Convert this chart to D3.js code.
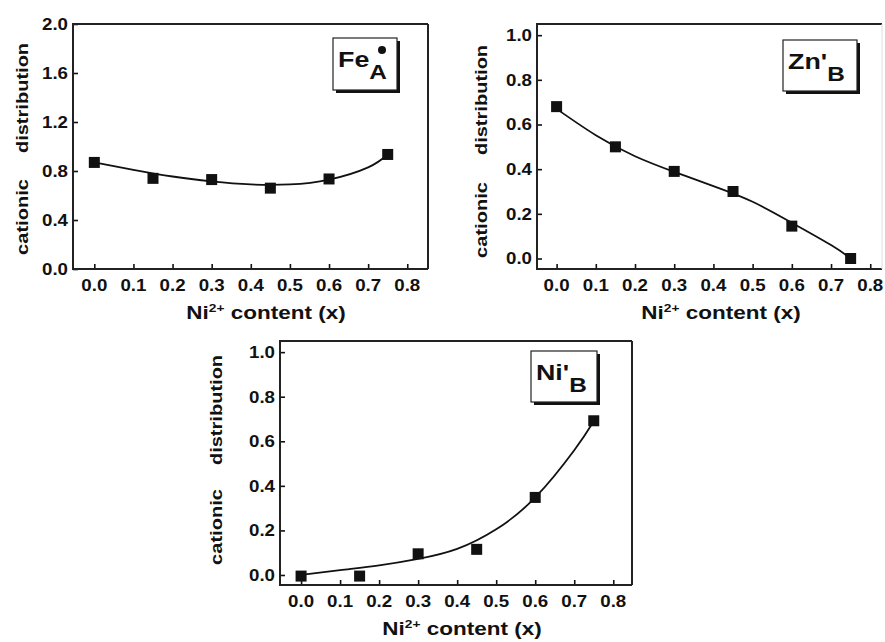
<!DOCTYPE html>
<html>
<head>
<meta charset="utf-8">
<script src="https://cdn.jsdelivr.net/npm/d3@7/dist/d3.min.js"></script>
<style>
  body { margin: 0; background: #fff; }
  svg { display: block; font-family: "Liberation Sans", Arial, sans-serif; font-weight: bold; }
</style>
</head>
<body>
<div id="chart"></div>
<script>
// Ni2+ content of the samples
const nickel = [0.0, 0.15, 0.30, 0.45, 0.60, 0.75];

// measured cationic distribution
const feA = [0.87, 0.74, 0.73, 0.66, 0.735, 0.935];
const znB = [0.68, 0.50, 0.39, 0.30, 0.145, 0.0];
const niB = [-0.005, -0.005, 0.095, 0.115, 0.348, 0.692];

// fitted lines
const fitX = [0.0, 0.1, 0.2, 0.3, 0.4, 0.5, 0.6, 0.7, 0.75];
const feFit = [0.87, 0.81, 0.755, 0.715, 0.69, 0.69, 0.73, 0.83, 0.935];
const znFit = [0.67, 0.552, 0.458, 0.388, 0.324, 0.254, 0.16, 0.06, 0.0];
const niFit = [0.0, 0.022, 0.043, 0.072, 0.117, 0.205, 0.348, 0.56, 0.69];

const xTicks = [0, 0.1, 0.2, 0.3, 0.4, 0.5, 0.6, 0.7, 0.8];
const feTicks = [0, 0.4, 0.8, 1.2, 1.6, 2.0];
const unitTicks = [0, 0.2, 0.4, 0.6, 0.8, 1.0];

const panels = [
  { frame: [73, 24, 428, 269], xDom: [-0.0545, 0.853], yDom: [0, 2], yTicks: feTicks,
    pts: feA, fit: feFit, ion: 'Fe', mark: '', sub: 'A', dot: true,
    box: [333, 38, 64, 52], yLab: 22, yWords: [217, 98], xLab: 266 },
  { frame: [537, 24, 882, 269], xDom: [-0.050, 0.830], yDom: [-0.047, 1.05], yTicks: unitTicks,
    pts: znB, fit: znFit, ion: 'Zn', mark: "'", sub: 'B', dot: false,
    box: [783, 40, 74, 51], yLab: 481, yWords: [220, 100], xLab: 721, rightFaint: true },
  { frame: [280, 341, 632, 585], xDom: [-0.054, 0.848], yDom: [-0.045, 1.05], yTicks: unitTicks,
    pts: niB, fit: niFit, ion: 'Ni', mark: "'", sub: 'B', dot: false,
    box: [531, 351, 66, 51], yLab: 216, yWords: [527, 410], xLab: 462 }
];

const svg = d3.select('#chart').append('svg')
  .attr('width', 885)
  .attr('height', 642);

panels.forEach(p => {
  const [x0, y0, x1, y1] = p.frame;
  const x = d3.scaleLinear().domain(p.xDom).range([x0, x1]);
  const y = d3.scaleLinear().domain(p.yDom).range([y1, y0]);
  const g = svg.append('g');

  // inward ticks
  g.append('g')
    .attr('transform', `translate(0,${y1})`)
    .call(d3.axisTop(x).tickValues(xTicks).tickSize(5).tickFormat(''))
    .call(a => a.select('.domain').remove())
    .call(a => a.selectAll('line').attr('stroke', '#111').attr('stroke-width', 1.6));
  g.append('g')
    .attr('transform', `translate(${x0},0)`)
    .call(d3.axisRight(y).tickValues(p.yTicks).tickSize(5).tickFormat(''))
    .call(a => a.select('.domain').remove())
    .call(a => a.selectAll('line').attr('stroke', '#111').attr('stroke-width', 1.6));

  // tick labels (the figure's lettering is a bit wide)
  g.selectAll('text.xt').data(xTicks).join('text')
    .attr('class', 'xt')
    .attr('transform', d => `translate(${x(d)},${y1 + 22}) scale(1.1,1)`)
    .attr('text-anchor', 'middle')
    .attr('font-size', 17)
    .attr('fill', '#111')
    .text(d => d.toFixed(1));
  g.selectAll('text.yt').data(p.yTicks).join('text')
    .attr('class', 'yt')
    .attr('transform', d => `translate(${x0 - 5},${y(d)}) scale(1.1,1)`)
    .attr('dy', '0.35em')
    .attr('text-anchor', 'end')
    .attr('font-size', 17)
    .attr('fill', '#111')
    .text(d => d.toFixed(1));

  // frame
  g.append('path')
    .attr('d', `M${x1},${y0}H${x0}V${y1}H${x1}`)
    .attr('fill', 'none')
    .attr('stroke', '#222')
    .attr('stroke-width', 2);
  g.append('line')
    .attr('x1', x1).attr('x2', x1).attr('y1', y0).attr('y2', y1)
    .attr('stroke', p.rightFaint ? '#ddd' : '#222')
    .attr('stroke-width', p.rightFaint ? 1 : 2);

  // fitted curve
  const line = d3.line()
    .x((d, i) => x(fitX[i]))
    .y(d => y(d))
    .curve(d3.curveNatural);
  g.append('path')
    .attr('d', line(p.fit))
    .attr('fill', 'none')
    .attr('stroke', '#111')
    .attr('stroke-width', 1.8);

  // square markers
  g.selectAll('rect.pt').data(p.pts).join('rect')
    .attr('class', 'pt')
    .attr('x', (d, i) => x(nickel[i]) - 5.5)
    .attr('y', d => y(d) - 5.5)
    .attr('width', 11)
    .attr('height', 11)
    .attr('fill', '#111');

  // axis titles
  const xl = g.append('text')
    .attr('transform', `translate(${p.xLab},${y1 + 50}) scale(1.25,1)`)
    .attr('text-anchor', 'middle')
    .attr('font-size', 18)
    .attr('fill', '#111');
  xl.append('tspan').text('Ni');
  xl.append('tspan').attr('font-size', 11).attr('dy', -7).text('2+');
  xl.append('tspan').attr('dy', 7).text(' content (x)');

  ['cationic', 'distribution'].forEach((w, i) => {
    g.append('text')
      .attr('transform', `translate(${p.yLab},${p.yWords[i]}) rotate(-90) scale(1.18,1)`)
      .attr('text-anchor', 'middle')
      .attr('dy', '0.35em')
      .attr('font-size', 17)
      .attr('fill', '#111')
      .text(w);
  });

  // label box with shadow
  const [bx, by, bw, bh] = p.box;
  g.append('rect')
    .attr('x', bx + 3).attr('y', by + 3)
    .attr('width', bw).attr('height', bh)
    .attr('fill', '#111');
  g.append('rect')
    .attr('x', bx).attr('y', by)
    .attr('width', bw).attr('height', bh)
    .attr('fill', '#fff')
    .attr('stroke', '#222')
    .attr('stroke-width', 1.2);
  const lt = g.append('text')
    .attr('transform', `translate(${bx + 5},${by + 29}) scale(1.22,1)`)
    .attr('font-size', 22)
    .attr('fill', '#111');
  lt.append('tspan').text(p.ion + p.mark);
  lt.append('tspan').attr('font-size', 20).attr('dy', 12).text(p.sub);
  if (p.dot) {
    g.append('circle')
      .attr('cx', bx + 49)
      .attr('cy', by + 12)
      .attr('r', 4)
      .attr('fill', '#111');
  }
});
</script>
</body>
</html>
